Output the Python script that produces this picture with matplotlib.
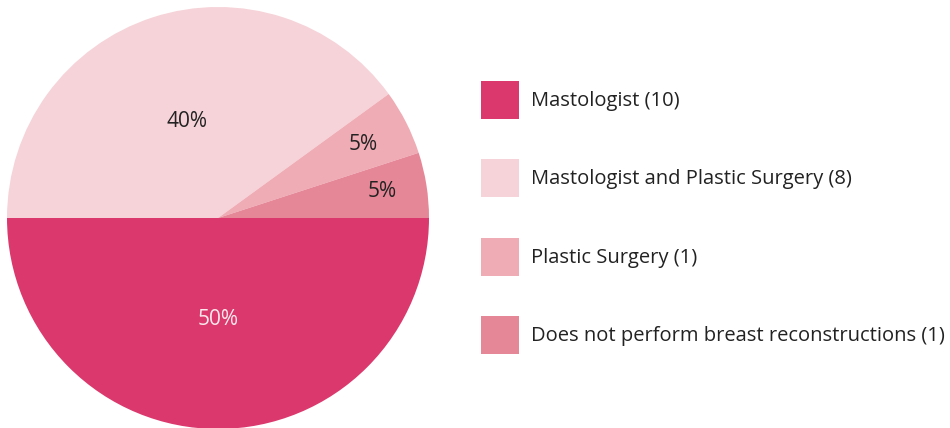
import numpy as np
import matplotlib.pyplot as plt
from matplotlib.patches import Patch

labels = ['Mastologist (10)', 'Mastologist and Plastic Surgery (8)',
          'Plastic Surgery (1)', 'Does not perform breast reconstructions (1)']
counts = [10, 8, 1, 1]
colors = ['#db386d', '#f6d3d8', '#efacb5', '#e68797']
pct_colors = ['#fbe9ee', '#222222', '#222222', '#222222']
pct_dist = [0.48, 0.48, 0.77, 0.79]

plt.rcParams['font.family'] = ['Open Sans', 'DejaVu Sans']

fig = plt.figure(figsize=(9.5, 4.28), dpi=100)
ax = fig.add_axes([7 / 950, -1 / 428, 422 / 950, 422 / 428])

wedges, texts, autotexts = ax.pie(counts, colors=colors, startangle=0, counterclock=False,
                                  autopct='%1.0f%%', radius=1, pctdistance=0.5,
                                  wedgeprops=dict(linewidth=0))
for w, t, c, d in zip(wedges, autotexts, pct_colors, pct_dist):
    mid = np.deg2rad((w.theta1 + w.theta2) / 2)
    t.set_position((d * np.cos(mid), d * np.sin(mid)))
    t.set_color(c)
    t.set_fontsize(15)
ax.set_xlim(-1, 1)
ax.set_ylim(-1, 1)
ax.set_aspect('equal')
ax.axis('off')

handles = [Patch(facecolor=c, edgecolor='none') for c in colors]
fig.legend(handles, labels, loc='upper left', bbox_to_anchor=(481 / 950, 1 - 81 / 428),
           frameon=False, fontsize=14.5, handlelength=1.89, handleheight=2.53,
           handletextpad=0.6, labelspacing=2.0, borderaxespad=0, borderpad=0,
           labelcolor='#222222')

fig.savefig('out.png', dpi=100)
